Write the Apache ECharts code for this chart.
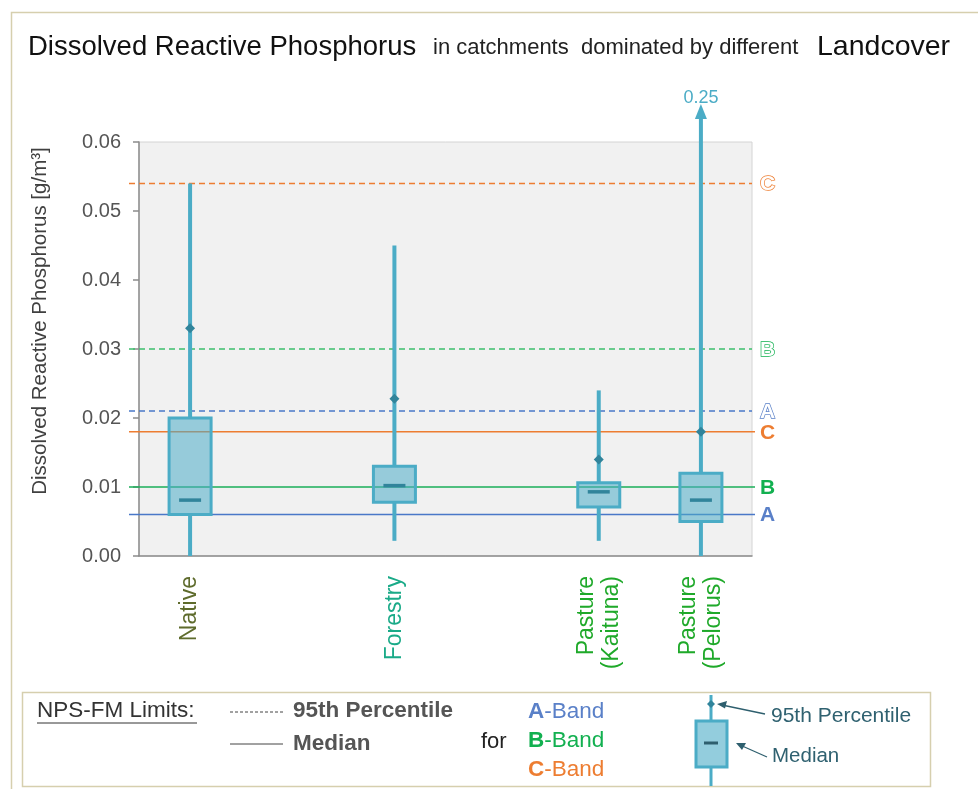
<!DOCTYPE html>
<html><head><meta charset="utf-8">
<script src="https://cdn.jsdelivr.net/npm/echarts@6/dist/echarts.min.js"></script>
<style>html,body{margin:0;padding:0;background:#fff}#c{width:978px;height:789px}</style>
</head><body><div id="c"></div>
<script>
// ---- data ----
const categories = ['Native', '', 'Forestry', '', 'Pasture\n(Kaituna)', 'Pasture\n(Pelorus)'];
const labelColors = ['#5e6b2c', '#000', '#1aaa88', '#000', '#1fa92a', '#1fa92a'];
const whiskerMin = [0.0, null, 0.0022, null, 0.0022, 0.0];
const quart1    = [0.0060, null, 0.0078, null, 0.0071, 0.0050];
const medians   = [0.0081, null, 0.0102, null, 0.0093, 0.0081];
const quart3    = [0.0200, null, 0.0130, null, 0.0106, 0.0120];
const whiskerMax = [0.054, null, 0.045, null, 0.024, 0.25];
const pct95     = [0.033, null, 0.0228, null, 0.014, 0.018];
const yTicks = [0, 0.01, 0.02, 0.03, 0.04, 0.05, 0.06];
const limitBands = ['A', 'B', 'C'];
const limitMedian = [0.006, 0.010, 0.018];
const limit95th = [0.021, 0.030, 0.054];

const FONT = '"Liberation Sans", Arial, sans-serif';
const bandColors = { A: '#4a78c8', B: '#1aae58', C: '#ed7d31' };
const bandTextColors = { A: '#5a80c8', B: '#12b050', C: '#ed7d31' };

const boxData = [];
categories.forEach((c, i) => {
  if (quart1[i] != null) boxData.push([i, whiskerMin[i], quart1[i], medians[i], quart3[i], whiskerMax[i], pct95[i]]);
});
const limitData = [];
limitBands.forEach((b, i) => {
  limitData.push([0, limitMedian[i], i, 0]);
  limitData.push([0, limit95th[i], i, 1]);
});

const chart = echarts.init(document.getElementById('c'), null, { renderer: 'canvas' });
const yMax = yTicks[yTicks.length - 1];

function renderBox(params, api) {
  const cs = params.coordSys;
  const idx = api.value(0);
  const vMin = api.value(1), q1 = api.value(2), med = api.value(3), q3 = api.value(4), vMax = api.value(5), p95 = api.value(6);
  const pMin = api.coord([idx, vMin]);
  const pQ1 = api.coord([idx, q1]);
  const pMed = api.coord([idx, med]);
  const pQ3 = api.coord([idx, q3]);
  const p95p = api.coord([idx, p95]);
  const x = pQ1[0];
  const halfW = 21;
  let topY, over = false;
  if (vMax > yMax) { over = true; topY = cs.y - 24; } else { topY = api.coord([idx, vMax])[1]; }
  const wc = '#4bacc6', dark = '#31849b';
  const children = [
    { type: 'line', shape: { x1: x, y1: pMin[1], x2: x, y2: pQ1[1] }, style: { stroke: wc, lineWidth: 4 } },
    { type: 'line', shape: { x1: x, y1: pQ3[1], x2: x, y2: topY }, style: { stroke: wc, lineWidth: 4 } },
    { type: 'rect', shape: { x: x - halfW, y: pQ3[1], width: halfW * 2, height: pQ1[1] - pQ3[1] },
      style: { fill: 'rgba(75,172,198,0.55)', stroke: wc, lineWidth: 3 } },
    { type: 'line', shape: { x1: x - 11, y1: pMed[1], x2: x + 11, y2: pMed[1] }, style: { stroke: dark, lineWidth: 3.5 } },
    { type: 'polygon', shape: { points: [[x, p95p[1] - 5], [x + 5, p95p[1]], [x, p95p[1] + 5], [x - 5, p95p[1]]] }, style: { fill: dark } }
  ];
  if (over) {
    children.push({ type: 'polygon', shape: { points: [[x, topY - 14], [x + 6, topY + 1], [x - 6, topY + 1]] }, style: { fill: wc } });
    children.push({ type: 'text', style: { x: x, y: topY - 11, text: String(vMax), fill: wc, font: '18px ' + FONT, align: 'center', verticalAlign: 'bottom' } });
  }
  return { type: 'group', children };
}

function renderLimit(params, api) {
  const cs = params.coordSys;
  const v = api.value(1), bi = api.value(2), dashed = api.value(3) === 1;
  const b = limitBands[bi];
  const y = api.coord([0, v])[1];
  const col = bandColors[b];
  return {
    type: 'group',
    children: [
      { type: 'line', shape: { x1: cs.x - 10, y1: y, x2: cs.x + cs.width + (dashed ? 0 : 3), y2: y },
        style: { stroke: dashed ? (b === 'B' ? '#3cbf6c' : col) : col, lineWidth: 1.5, lineDash: dashed ? [6, 4] : null } },
      { type: 'text', style: { x: cs.x + cs.width + 8, y: y + 1, text: b, align: 'left', verticalAlign: 'middle',
        font: 'bold 21px ' + FONT, fill: dashed ? '#ffffff' : bandTextColors[b], stroke: dashed ? bandTextColors[b] : null, lineWidth: dashed ? 1.4 : 0 } }
    ]
  };
}

const txt = (x, y, text, font, fill, extra) => ({ type: 'text', style: Object.assign({ x, y, text, font: font + ' ' + FONT, fill, verticalAlign: 'middle' }, extra || {}) });

const legendGraphics = [
  { type: 'rect', shape: { x: 11.5, y: 12.5, width: 980, height: 800 }, style: { fill: null, stroke: '#d6cfae', lineWidth: 1.5 }, silent: true },
  // title
  txt(28, 47, 'Dissolved Reactive Phosphorus', '27.5px', '#111'),
  txt(433, 48, 'in catchments  dominated by different', '22px', '#222'),
  txt(817, 47, 'Landcover', '28.5px', '#111'),
  // y axis name
  { type: 'text', x: 40, y: 321, rotation: Math.PI / 2, style: { x: 0, y: 0, text: 'Dissolved Reactive Phosphorus [g/m³]', font: '20.5px ' + FONT, fill: '#404040', align: 'center', verticalAlign: 'middle' } },
  // legend box
  { type: 'rect', shape: { x: 22.5, y: 692.5, width: 908, height: 94 }, style: { fill: '#fff', stroke: '#d6cfae', lineWidth: 1.5 } },
  txt(37, 711, 'NPS-FM Limits:', '22.5px', '#333'),
  { type: 'line', shape: { x1: 37, y1: 723, x2: 197, y2: 723 }, style: { stroke: '#333', lineWidth: 1 } },
  { type: 'line', shape: { x1: 230, y1: 712, x2: 283, y2: 712 }, style: { stroke: '#444', lineWidth: 1, lineDash: [3, 2] } },
  txt(293, 711, '95th Percentile', 'bold 22.5px', '#555'),
  { type: 'line', shape: { x1: 230, y1: 744, x2: 283, y2: 744 }, style: { stroke: '#444', lineWidth: 1 } },
  txt(293, 744, 'Median', 'bold 22.5px', '#555'),
  txt(481, 742, 'for', '22px', '#222'),
  { type: 'text', style: { x: 528, y: 712, text: '{b|A}{n|-Band}', verticalAlign: 'middle', rich: { b: { font: 'bold 22.5px ' + FONT, fill: '#5a80c8' }, n: { font: '22.5px ' + FONT, fill: '#5a80c8' } } } },
  { type: 'text', style: { x: 528, y: 741, text: '{b|B}{n|-Band}', verticalAlign: 'middle', rich: { b: { font: 'bold 22.5px ' + FONT, fill: '#12b050' }, n: { font: '22.5px ' + FONT, fill: '#12b050' } } } },
  { type: 'text', style: { x: 528, y: 770, text: '{b|C}{n|-Band}', verticalAlign: 'middle', rich: { b: { font: 'bold 22.5px ' + FONT, fill: '#ed7d31' }, n: { font: '22.5px ' + FONT, fill: '#ed7d31' } } } },
  // glyph
  { type: 'line', shape: { x1: 711, y1: 695, x2: 711, y2: 786 }, style: { stroke: '#4bacc6', lineWidth: 3 } },
  { type: 'rect', shape: { x: 696, y: 721, width: 31, height: 46 }, style: { fill: '#93cddd', stroke: '#4bacc6', lineWidth: 3 } },
  { type: 'line', shape: { x1: 704, y1: 743, x2: 718, y2: 743 }, style: { stroke: '#2e5f6e', lineWidth: 3 } },
  { type: 'polygon', shape: { points: [[711, 700], [715, 704], [711, 708], [707, 704]] }, style: { fill: '#31849b' } },
  { type: 'line', shape: { x1: 765, y1: 714, x2: 722, y2: 705 }, style: { stroke: '#2e5f6e', lineWidth: 1.3 } },
  { type: 'polygon', shape: { points: [[717, 704], [727, 701], [725, 708.5]] }, style: { fill: '#2e5f6e' } },
  txt(771, 716, '95th Percentile', '21px', '#2f6170'),
  { type: 'line', shape: { x1: 767, y1: 757, x2: 740, y2: 745 }, style: { stroke: '#2e5f6e', lineWidth: 1.3 } },
  { type: 'polygon', shape: { points: [[736, 743], [746, 743], [742, 750]] }, style: { fill: '#2e5f6e' } },
  txt(772, 756, 'Median', '20.5px', '#2f6170')
];

chart.setOption({
  animation: false,
  backgroundColor: '#ffffff',
  grid: { left: 139, right: 226, top: 142, bottom: 233, show: true, backgroundColor: '#f1f1f1', borderColor: '#d4d4d4', borderWidth: 1 },
  xAxis: {
    type: 'category', data: categories,
    axisLine: { lineStyle: { color: '#8c8c8c', width: 1.5 } },
    axisTick: { length: 7, lineStyle: { color: '#8c8c8c', width: 1.5 } },
    axisLabel: { rotate: 90, margin: 20, fontFamily: FONT, fontSize: 23, lineHeight: 25, interval: 0,
      color: (v, i) => labelColors[i] }
  },
  yAxis: {
    type: 'value', min: 0, max: yMax, interval: 0.01,
    axisLine: { show: true, lineStyle: { color: '#8c8c8c', width: 1.5 } },
    axisTick: { show: true, length: 6, lineStyle: { color: '#8c8c8c', width: 1.5 } },
    splitLine: { show: false },
    axisLabel: { fontFamily: FONT, fontSize: 20, color: '#555', margin: 18, formatter: v => v.toFixed(2) }
  },
  graphic: legendGraphics,
  series: [
    { type: 'custom', name: 'limits', data: limitData, renderItem: renderLimit, clip: false, z: 2, encode: { x: 0, y: 1 } },
    { type: 'custom', name: 'boxes', data: boxData, renderItem: renderBox, clip: false, z: 3, encode: { x: 0, y: [1, 2, 3, 4] } }
  ]
});
</script></body></html>
